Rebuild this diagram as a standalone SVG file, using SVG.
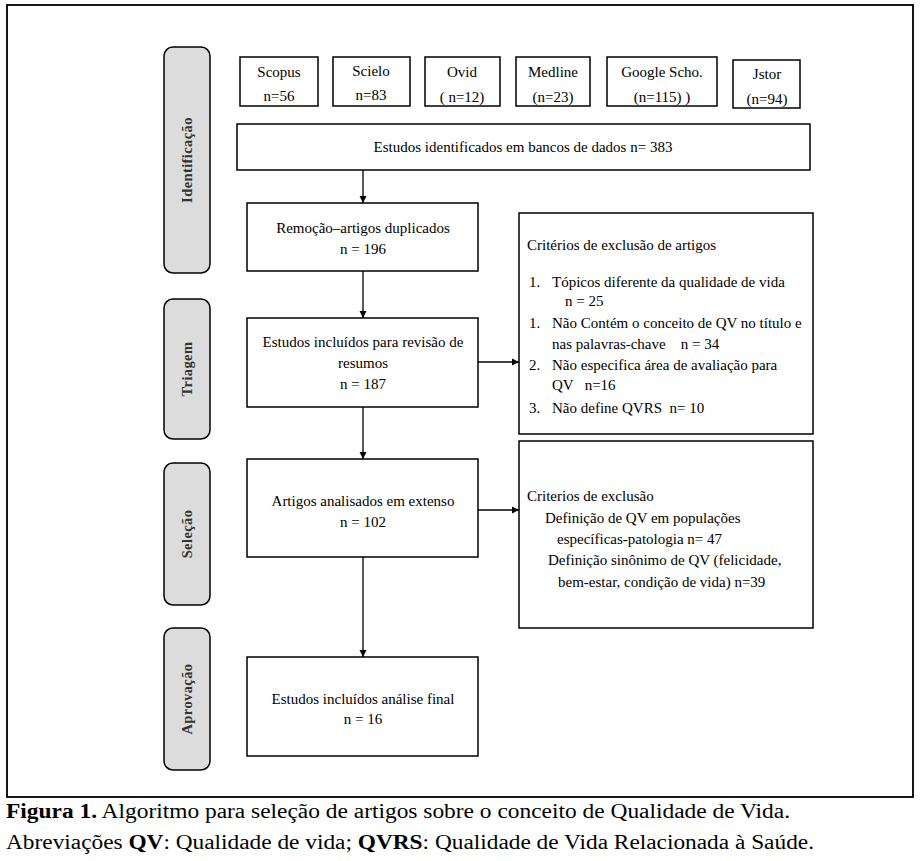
<svg xmlns="http://www.w3.org/2000/svg" width="920" height="861" viewBox="0 0 920 861">
<style>
.b{fill:#fff;stroke:#000;stroke-width:1.5}
.s{fill:#dcdcdc;stroke:#000;stroke-width:1.5}
.t{font-family:"Liberation Serif",serif;font-size:15px;fill:#000}
.c{text-anchor:middle}
.sl{font-family:"Liberation Serif",serif;font-size:14.5px;font-weight:bold;fill:#333;text-anchor:middle;letter-spacing:0.4px}
.cap{font-family:"Liberation Serif",serif;font-size:20px;fill:#000}
.ln{stroke:#000;stroke-width:1.3;fill:none}
</style>
<defs>
<marker id="ah" markerWidth="8" markerHeight="8" refX="7" refY="4" orient="auto" markerUnits="userSpaceOnUse">
<path d="M0,0.5 L7,4 L0,7.5 Z" fill="#000"/>
</marker>
</defs>
<rect x="0" y="0" width="920" height="861" fill="#fff"/>
<rect x="7" y="5" width="906" height="792" fill="none" stroke="#000" stroke-width="1.8"/>

<g id="lane-identificacao"><rect class="s" x="164" y="47" width="46" height="226" rx="9"/><text class="sl" transform="translate(192,160) rotate(-90)">Identificação</text></g>
<g id="lane-triagem"><rect class="s" x="164" y="299" width="46" height="140" rx="9"/><text class="sl" transform="translate(192,369) rotate(-90)">Triagem</text></g>
<g id="lane-selecao"><rect class="s" x="164" y="463" width="46" height="142" rx="9"/><text class="sl" transform="translate(192,534) rotate(-90)">Seleção</text></g>
<g id="lane-aprovacao"><rect class="s" x="164" y="628" width="46" height="142" rx="9"/><text class="sl" transform="translate(192,699) rotate(-90)">Aprovação</text></g>

<g id="scopus"><rect class="b" x="240" y="57" width="78" height="49"/><text class="t c" x="279" y="77">Scopus</text><text class="t c" x="279" y="101">n=56</text></g>
<g id="scielo"><rect class="b" x="333" y="57" width="77" height="49"/><text class="t c" x="371" y="76">Scielo</text><text class="t c" x="371" y="100">n=83</text></g>
<g id="ovid"><rect class="b" x="425" y="57" width="75" height="49"/><text class="t c" x="462" y="77">Ovid</text><text class="t c" x="462" y="102">( n=12)</text></g>
<g id="medline"><rect class="b" x="516" y="57" width="74" height="49"/><text class="t c" x="553" y="77">Medline</text><text class="t c" x="553" y="102">(n=23)</text></g>
<g id="google"><rect class="b" x="607" y="57" width="110" height="49"/><text class="t c" x="662" y="77">Google Scho.</text><text class="t c" x="662" y="102">(n=115) )</text></g>
<g id="jstor"><rect class="b" x="733" y="60" width="67" height="48"/><text class="t c" x="767" y="79">Jstor</text><text class="t c" x="767" y="104">(n=94)</text></g>

<g id="identificados"><rect class="b" x="237" y="124" width="573" height="46"/><text class="t c" x="523" y="152">Estudos identificados em bancos de dados n= 383</text></g>
<g id="remocao"><rect class="b" x="247" y="203" width="231" height="68"/><text class="t c" x="363" y="233">Remoção–artigos duplicados</text><text class="t c" x="363" y="254">n = 196</text></g>
<g id="incluidos"><rect class="b" x="247" y="318" width="231" height="89"/><text class="t c" x="363" y="347">Estudos incluídos para revisão de</text><text class="t c" x="363" y="368">resumos</text><text class="t c" x="363" y="389">n = 187</text></g>
<g id="criterios1"><rect class="b" x="519" y="213" width="294" height="221"/>
<text class="t" x="527" y="250">Critérios de exclusão de artigos</text>
<text class="t" x="529" y="287">1.</text><text class="t" x="552" y="287">Tópicos diferente da qualidade de vida</text>
<text class="t" x="565" y="306">n = 25</text>
<text class="t" x="529" y="328">1.</text><text class="t" x="552" y="328">Não Contém o conceito de QV no título e</text>
<text class="t" x="552" y="349" xml:space="preserve">nas palavras-chave    n = 34</text>
<text class="t" x="529" y="370">2.</text><text class="t" x="552" y="370">Não especifica área de avaliação para</text>
<text class="t" x="552" y="390" xml:space="preserve">QV   n=16</text>
<text class="t" x="529" y="413">3.</text><text class="t" x="552" y="413" xml:space="preserve">Não define QVRS  n= 10</text>
</g>
<g id="analisados"><rect class="b" x="247" y="459" width="231" height="98"/><text class="t c" x="363" y="506">Artigos analisados em extenso</text><text class="t c" x="363" y="527">n = 102</text></g>
<g id="criterios2"><rect class="b" x="519" y="441" width="294" height="187"/>
<text class="t" x="527" y="501">Criterios de exclusão</text>
<text class="t" x="545" y="523">Definição de QV em populações</text>
<text class="t" x="557" y="544">específicas-patologia n= 47</text>
<text class="t" x="548" y="565">Definição sinônimo de QV (felicidade,</text>
<text class="t" x="558" y="587">bem-estar, condição de vida) n=39</text>
</g>
<g id="final"><rect class="b" x="247" y="657" width="231" height="99"/><text class="t c" x="363" y="704">Estudos incluídos análise final</text><text class="t c" x="363" y="724">n = 16</text></g>

<g id="connectors">
<line class="ln" x1="363" y1="170" x2="363" y2="203" marker-end="url(#ah)"/>
<line class="ln" x1="363" y1="271" x2="363" y2="318" marker-end="url(#ah)"/>
<line class="ln" x1="478" y1="362" x2="519" y2="362" marker-end="url(#ah)"/>
<line class="ln" x1="363" y1="407" x2="363" y2="459" marker-end="url(#ah)"/>
<line class="ln" x1="478" y1="510" x2="519" y2="510" marker-end="url(#ah)"/>
<line class="ln" x1="363" y1="557" x2="363" y2="657" marker-end="url(#ah)"/>
</g>

<text class="cap" x="6" y="818" textLength="784" lengthAdjust="spacingAndGlyphs"><tspan font-weight="bold">Figura 1.</tspan> Algoritmo para seleção de artigos sobre o conceito de Qualidade de Vida.</text>
<text class="cap" x="6" y="849" textLength="808" lengthAdjust="spacingAndGlyphs">Abreviações <tspan font-weight="bold">QV</tspan>: Qualidade de vida; <tspan font-weight="bold">QVRS</tspan>: Qualidade de Vida Relacionada à Saúde.</text>
</svg>
